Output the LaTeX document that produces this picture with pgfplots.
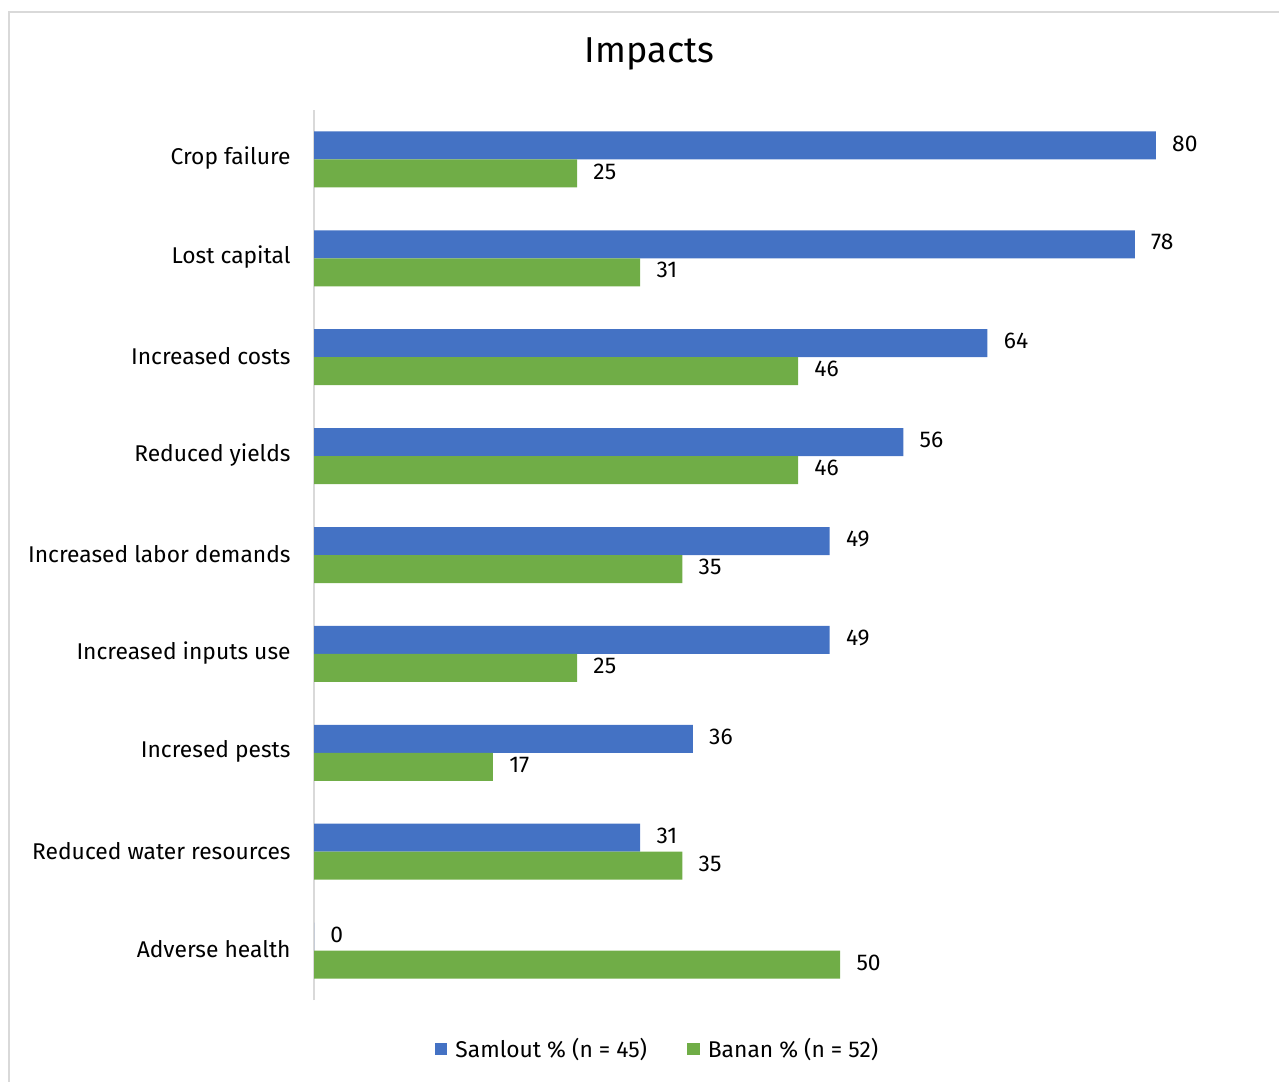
\documentclass[border=0pt]{standalone}
\usepackage{pgfplots}
\pgfplotsset{compat=1.18}
\usepackage{fontspec}
\setmainfont{Fira Sans}

\definecolor{samlout}{HTML}{4472C4}
\definecolor{banan}{HTML}{70AD47}
\definecolor{frame}{HTML}{D9D9D9}

% Impacts reported by respondents, categories listed bottom (0) to top (8)
\begin{document}
\begin{tikzpicture}
\useasboundingbox (0,0) rectangle (639.5pt,-540.5pt);
\draw[frame, line width=0.8pt] (4.5pt,-541pt) -- (4.5pt,-6pt) -- (640pt,-6pt);
\node[font=\fontsize{18}{21}\selectfont, text=black] at (324.75pt,-27pt) {Impacts};
\begin{axis}[
  at={(157pt,-500pt)}, anchor=south west,
  scale only axis, width=463pt, height=445pt,
  xbar, bar width=14pt,
  xmin=0, xmax=88, ymin=-0.5, ymax=8.5,
  xtick=\empty,
  ytick={0,...,8},
  yticklabels={Adverse health, Reduced water resources, Incresed pests,
    Increased inputs use, Increased labor demands, Reduced yields,
    Increased costs, Lost capital, Crop failure},
  major tick length=0pt,
  yticklabel style={font=\fontsize{11.4}{14}\selectfont, inner sep=0pt, xshift=-11.5pt, yshift=0.5pt},
  axis line style={draw=none},
  clip=false,
  nodes near coords,
  nodes near coords style={font=\fontsize{11.4}{14}\selectfont, anchor=west, inner sep=0pt, xshift=8pt, yshift=1pt, text=black,
    /pgf/number format/assume math mode=true},
  legend columns=2,
  legend style={draw=none, at={(0.372,-0.055)}, anchor=center,
    font=\fontsize{11.4}{14}\selectfont,
    /tikz/every odd column/.append style={column sep=2pt},
    /tikz/every even column/.append style={column sep=18pt}},
  legend image code/.code={\fill[#1] (0pt,-3.2pt) rectangle (6.4pt,3.2pt);},
]
\draw[frame, line width=1pt] (rel axis cs:0,0) -- (rel axis cs:0,1);
\addplot[fill=samlout, draw=none, bar shift=7pt] coordinates {
  (0,0) (31,1) (36,2) (49,3) (49,4) (56,5) (64,6) (78,7) (80,8)};
\addplot[fill=banan, draw=none, bar shift=-7pt] coordinates {
  (50,0) (35,1) (17,2) (25,3) (35,4) (46,5) (46,6) (31,7) (25,8)};
\legend{Samlout \% (n = 45), Banan \% (n = 52)}
\end{axis}
\end{tikzpicture}
\end{document}
